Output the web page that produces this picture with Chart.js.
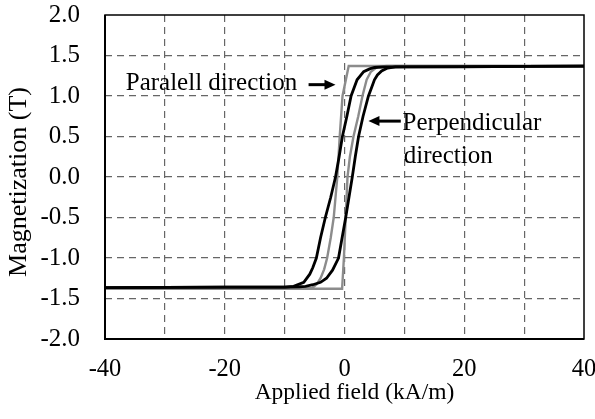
<!DOCTYPE html>
<html>
<head>
<meta charset="utf-8">
<script src="https://cdn.jsdelivr.net/npm/chart.js@4/dist/chart.umd.min.js"></script>
<style>
  html, body { margin: 0; padding: 0; background: #fff; }
  #wrap { width: 595px; height: 419px; }
</style>
</head>
<body>
<div id="wrap"><canvas id="loop" width="595" height="419"></canvas></div>
<script>
// Perpendicular direction (black), descending branch
const perpDescH = [40, 30, 20, 10, 6.5, 5, 4.2, 3.2, 2.1, 1.1, 0.4, -0.35, -0.9, -1.5, -2.3, -3.2, -4.0, -4.7, -5.3, -5.8, -6.8, -8.5, -10, -20, -30, -40];
const perpDescM = [1.37, 1.365, 1.36, 1.36, 1.358, 1.352, 1.335, 1.3, 1.2, 1.0, 0.75, 0.5, 0.25, 0, -0.25, -0.5, -0.75, -1.0, -1.12, -1.2, -1.3, -1.35, -1.36, -1.36, -1.362, -1.365];
// Perpendicular direction (black), ascending branch
const perpAscH = [-40, -30, -20, -10, -7.5, -6.5, -5.3, -4.0, -3.0, -2.0, -1.0, -0.4, 0.2, 0.75, 1.3, 1.8, 2.35, 3.1, 4.0, 4.5, 5.0, 5.5, 6.2, 7.2, 8.5, 10, 20, 30, 40];
const perpAscM = [-1.365, -1.362, -1.36, -1.36, -1.355, -1.35, -1.33, -1.3, -1.25, -1.15, -1.0, -0.75, -0.5, -0.25, 0, 0.25, 0.5, 0.75, 1.0, 1.1, 1.2, 1.26, 1.31, 1.345, 1.36, 1.36, 1.362, 1.365, 1.37];
// Parallel direction (gray), descending branch
const parDescH = [40, 20, 10, 5, 0.7, -0.33, -0.8, -1.2, -1.5, -1.8, -2.3, -2.9, -3.4, -4.0, -4.6, -5.4, -7, -10, -20, -40];
const parDescM = [1.37, 1.37, 1.37, 1.37, 1.37, 1.0, 0.5, 0, -0.25, -0.5, -0.75, -1.0, -1.14, -1.25, -1.32, -1.37, -1.38, -1.38, -1.38, -1.38];
// Parallel direction (gray), ascending branch
const parAscH = [-40, -20, -10, -5, -0.4, -0.1, 0.2, 0.5, 0.9, 1.5, 2.3, 3.0, 3.7, 4.4, 5.5, 7, 10, 20, 40];
const parAscM = [-1.38, -1.38, -1.38, -1.38, -1.38, -1.0, -0.5, 0, 0.25, 0.5, 0.75, 1.0, 1.2, 1.3, 1.36, 1.37, 1.37, 1.37, 1.37];

const xTicks = [-40, -20, 0, 20, 40];
const yTicks = [-2.0, -1.5, -1.0, -0.5, 0.0, 0.5, 1.0, 1.5, 2.0];

const xTitle = 'Applied field (kA/m)';
const yTitle = 'Magnetization (T)';

const serif = 'Liberation Serif';

function toPoints(hs, ms) {
    return hs.map((h, i) => ({ x: h, y: ms[i] }));
}

function lineSet(hs, ms, color, width) {
    return {
        data: toPoints(hs, ms),
        showLine: true,
        borderColor: color,
        borderWidth: width,
        pointRadius: 0,
        tension: 0,
        fill: false
    };
}

// keep the plot area fixed, no extra room for overhanging labels
function fixBox(size, key) {
    return function (s) {
        s[key] = size;
        s.paddingTop = 0;
        s.paddingBottom = 0;
        s.paddingLeft = 0;
        s.paddingRight = 0;
    };
}

// frame round the plot area + axis titles (a bit off-centre in the original)
const framePlugin = {
    id: 'frame',
    afterDraw(chart) {
        const { ctx, chartArea: a } = chart;
        ctx.save();
        ctx.strokeStyle = '#000';
        ctx.lineWidth = 1.5;
        ctx.strokeRect(a.left, a.top, a.right - a.left, a.bottom - a.top);
        ctx.lineWidth = 2;
        ctx.beginPath();
        ctx.moveTo(a.left, a.top);
        ctx.lineTo(a.left, a.bottom);
        ctx.lineTo(a.right, a.bottom);
        ctx.stroke();

        ctx.fillStyle = '#000';
        ctx.textAlign = 'center';
        ctx.textBaseline = 'middle';
        ctx.font = '23.5px "' + serif + '"';
        ctx.fillText(xTitle, (a.left + a.right) / 2 + 10, a.bottom + 54);
        ctx.translate(19, (a.top + a.bottom) / 2 + 5);
        ctx.rotate(-Math.PI / 2);
        ctx.font = '26px "' + serif + '"';
        ctx.fillText(yTitle, 0, 0);
        ctx.restore();
    }
};

// text labels with arrows
function arrow(ctx, x1, y1, x2, y2) {
    const dir = Math.sign(x2 - x1);
    ctx.beginPath();
    ctx.moveTo(x1, y1);
    ctx.lineTo(x2 - dir * 8, y2);
    ctx.lineWidth = 3;
    ctx.stroke();
    ctx.beginPath();
    ctx.moveTo(x2, y2);
    ctx.lineTo(x2 - dir * 11, y2 - 5);
    ctx.lineTo(x2 - dir * 11, y2 + 5);
    ctx.closePath();
    ctx.fill();
}

const notePlugin = {
    id: 'notes',
    afterDatasetsDraw(chart) {
        const { ctx, scales: { x, y } } = chart;
        ctx.save();
        ctx.fillStyle = '#000';
        ctx.strokeStyle = '#000';
        ctx.textBaseline = 'middle';
        ctx.font = '25px "' + serif + '"';
        ctx.textAlign = 'right';
        ctx.fillText('Paralell direction', x.getPixelForValue(-7.9), y.getPixelForValue(1.15));
        arrow(ctx, x.getPixelForValue(-6.0), y.getPixelForValue(1.14), x.getPixelForValue(-1.5), y.getPixelForValue(1.14));
        ctx.textAlign = 'left';
        ctx.fillText('Perpendicular', x.getPixelForValue(9.7), y.getPixelForValue(0.66));
        ctx.fillText('direction', x.getPixelForValue(9.9), y.getPixelForValue(0.26));
        arrow(ctx, x.getPixelForValue(9.4), y.getPixelForValue(0.69), x.getPixelForValue(4.0), y.getPixelForValue(0.69));
        ctx.restore();
    }
};

function gridColor(edge) {
    return function (c) {
        if (c.tick && Math.abs(Math.abs(c.tick.value) - edge) < 1e-6) return 'rgba(0,0,0,0)';
        return '#666';
    };
}

new Chart(document.getElementById('loop'), {
    type: 'scatter',
    data: {
        datasets: [
            lineSet(perpDescH, perpDescM, '#000', 2.8),
            lineSet(perpAscH, perpAscM, '#000', 2.8),
            lineSet(parDescH, parDescM, '#8c8c8c', 2.4),
            lineSet(parAscH, parAscM, '#8c8c8c', 2.4)
        ]
    },
    options: {
        responsive: false,
        animation: false,
        devicePixelRatio: 1,
        layout: { padding: { top: 15, right: 11, left: 0, bottom: 0 } },
        plugins: {
            legend: { display: false },
            tooltip: { enabled: false }
        },
        scales: {
            x: {
                type: 'linear',
                min: -40,
                max: 40,
                afterFit: fixBox(80, 'height'),
                afterBuildTicks(s) {
                    s.ticks = [];
                    for (let v = -40; v <= 40; v += 10) s.ticks.push({ value: v });
                },
                ticks: {
                    color: '#000',
                    font: { family: serif, size: 24.5 },
                    padding: 16,
                    maxRotation: 0,
                    autoSkip: false,
                    callback: (v) => xTicks.includes(v) ? String(v) : ''
                },
                grid: {
                    color: gridColor(40),
                    lineWidth: 1.2,
                    drawTicks: false
                },
                border: { display: false, dash: [7, 5] },
                title: { display: false }
            },
            y: {
                type: 'linear',
                min: -2,
                max: 2,
                afterFit: fixBox(105, 'width'),
                afterBuildTicks(s) {
                    s.ticks = yTicks.map(v => ({ value: v }));
                },
                ticks: {
                    color: '#000',
                    font: { family: serif, size: 25 },
                    padding: 25,
                    callback: (v) => v.toFixed(1)
                },
                grid: {
                    color: gridColor(2),
                    lineWidth: 1.2,
                    drawTicks: false
                },
                border: { display: false, dash: [7, 5] },
                title: { display: false }
            }
        }
    },
    plugins: [framePlugin, notePlugin]
});
</script>
</body>
</html>
